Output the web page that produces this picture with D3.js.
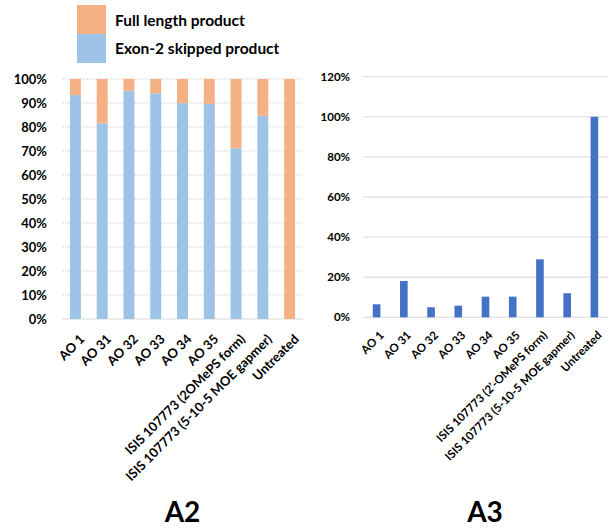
<!DOCTYPE html>
<html>
<head>
<meta charset="utf-8">
<script src="https://cdn.jsdelivr.net/npm/d3@7"></script>
<style>
  body { margin:0; background:#fff; }
  svg { display:block; font-family: Lato, "Liberation Sans", sans-serif; }
</style>
</head>
<body>
<svg width="611" height="530"></svg>
<script>
// ---------- data ----------
const catsA2 = ["AO 1","AO 31","AO 32","AO 33","AO 34","AO 35",
  "ISIS 107773 (2OMePS form)","ISIS 107773 (5-10-5 MOE gapmer)","Untreated"];
const catsA3 = ["AO 1","AO 31","AO 32","AO 33","AO 34","AO 35",
  "ISIS 107773 (2\u2019-OMePS form)","ISIS 107773 (5-10-5 MOE gapmer)","Untreated"];

const skipped    = [0.933, 0.815, 0.951, 0.940, 0.899, 0.896, 0.711, 0.847, 0.0];
const fullLength = [0.067, 0.185, 0.049, 0.060, 0.101, 0.104, 0.289, 0.153, 1.0];
const a3Values   = [0.065, 0.181, 0.050, 0.058, 0.103, 0.103, 0.289, 0.120, 1.0];

const ticksA2 = [0,0.1,0.2,0.3,0.4,0.5,0.6,0.7,0.8,0.9,1.0];
const ticksA3 = [0,0.2,0.4,0.6,0.8,1.0,1.2];

const C = { full:"#F4B183", skip:"#9DC3E6", bar:"#4472C4", grid:"#D9D9D9", ink:"#000" };

const svg = d3.select("svg");

// ---------- A2 : stacked 100% ----------
const x2 = d3.scaleBand().domain(catsA2).range([62,303]).paddingInner(0.59).paddingOuter(0.295);
const y2 = d3.scaleLinear().domain([0,1]).range([319,79]);

const g2 = svg.append("g");
g2.selectAll("line.grid").data(ticksA2).join("line")
  .attr("x1",62).attr("x2",303).attr("y1",d=>y2(d)).attr("y2",d=>y2(d))
  .attr("stroke",C.grid).attr("stroke-width",1).attr("stroke-dasharray",d=>d===0?null:"2,1");

const rows = catsA2.map((c,i)=>({cat:c, skip:skipped[i], full:fullLength[i]}));
const stack = d3.stack().keys(["skip","full"])(rows);
g2.selectAll("g.layer").data(stack).join("g")
  .attr("fill",d=>d.key==="skip"?C.skip:C.full)
  .selectAll("rect").data(d=>d).join("rect")
  .attr("x",d=>x2(d.data.cat)).attr("width",x2.bandwidth())
  .attr("y",d=>y2(d[1])).attr("height",d=>y2(d[0])-y2(d[1]));

g2.selectAll("text.yt").data(ticksA2).join("text")
  .attr("x",47).attr("y",d=>y2(d)).attr("dy","0.35em").attr("text-anchor","end")
  .attr("font-size",13).attr("font-weight",700).text(d3.format(".0%"));

g2.selectAll("text.xl").data(catsA2).join("text")
  .attr("text-anchor","end").attr("font-size",13).attr("font-weight",700)
  .attr("transform",d=>`translate(${x2(d)+x2.bandwidth()/2+10},${340}) rotate(-45)`)
  .text(d=>d);

// legend
const legend = [{k:"Full length product",c:C.full},{k:"Exon-2 skipped product",c:C.skip}];
legend.forEach((d,i)=>{
  svg.append("rect").attr("x",77).attr("y",5+i*29).attr("width",29).attr("height",29).attr("fill",d.c);
  svg.append("text").attr("x",115).attr("y",26+i*28).attr("font-size",15.5).attr("font-weight",700).text(d.k);
});

svg.append("text").attr("x",182.5).attr("y",522).attr("text-anchor","middle")
  .attr("font-size",28).attr("font-weight",700).text("A2");

// ---------- A3 ----------
const x3 = d3.scaleBand().domain(catsA3).range([363,608]).paddingInner(0.72).paddingOuter(0.36);
const y3 = d3.scaleLinear().domain([0,1.2]).range([317.3,76.7]);

const g3 = svg.append("g");
g3.selectAll("line.grid").data(ticksA3).join("line")
  .attr("x1",363).attr("x2",608).attr("y1",d=>y3(d)).attr("y2",d=>y3(d))
  .attr("stroke",C.grid).attr("stroke-width",1);

g3.selectAll("rect").data(catsA3).join("rect")
  .attr("x",d=>x3(d)).attr("width",x3.bandwidth())
  .attr("y",(d,i)=>y3(a3Values[i])).attr("height",(d,i)=>y3(0)-y3(a3Values[i]))
  .attr("fill",C.bar);

g3.selectAll("text.yt").data(ticksA3).join("text")
  .attr("x",350).attr("y",d=>y3(d)).attr("dy","0.35em").attr("text-anchor","end")
  .attr("font-size",11.5).attr("font-weight",700).text(d3.format(".0%"));

g3.selectAll("text.xl").data(catsA3).join("text")
  .attr("text-anchor","end").attr("font-size",11.5).attr("font-weight",700)
  .attr("transform",d=>`translate(${x3(d)+x3.bandwidth()/2+8},${336}) rotate(-45)`)
  .text(d=>d);

svg.append("text").attr("x",485).attr("y",522).attr("text-anchor","middle")
  .attr("font-size",28).attr("font-weight",700).text("A3");
</script>
</body>
</html>
